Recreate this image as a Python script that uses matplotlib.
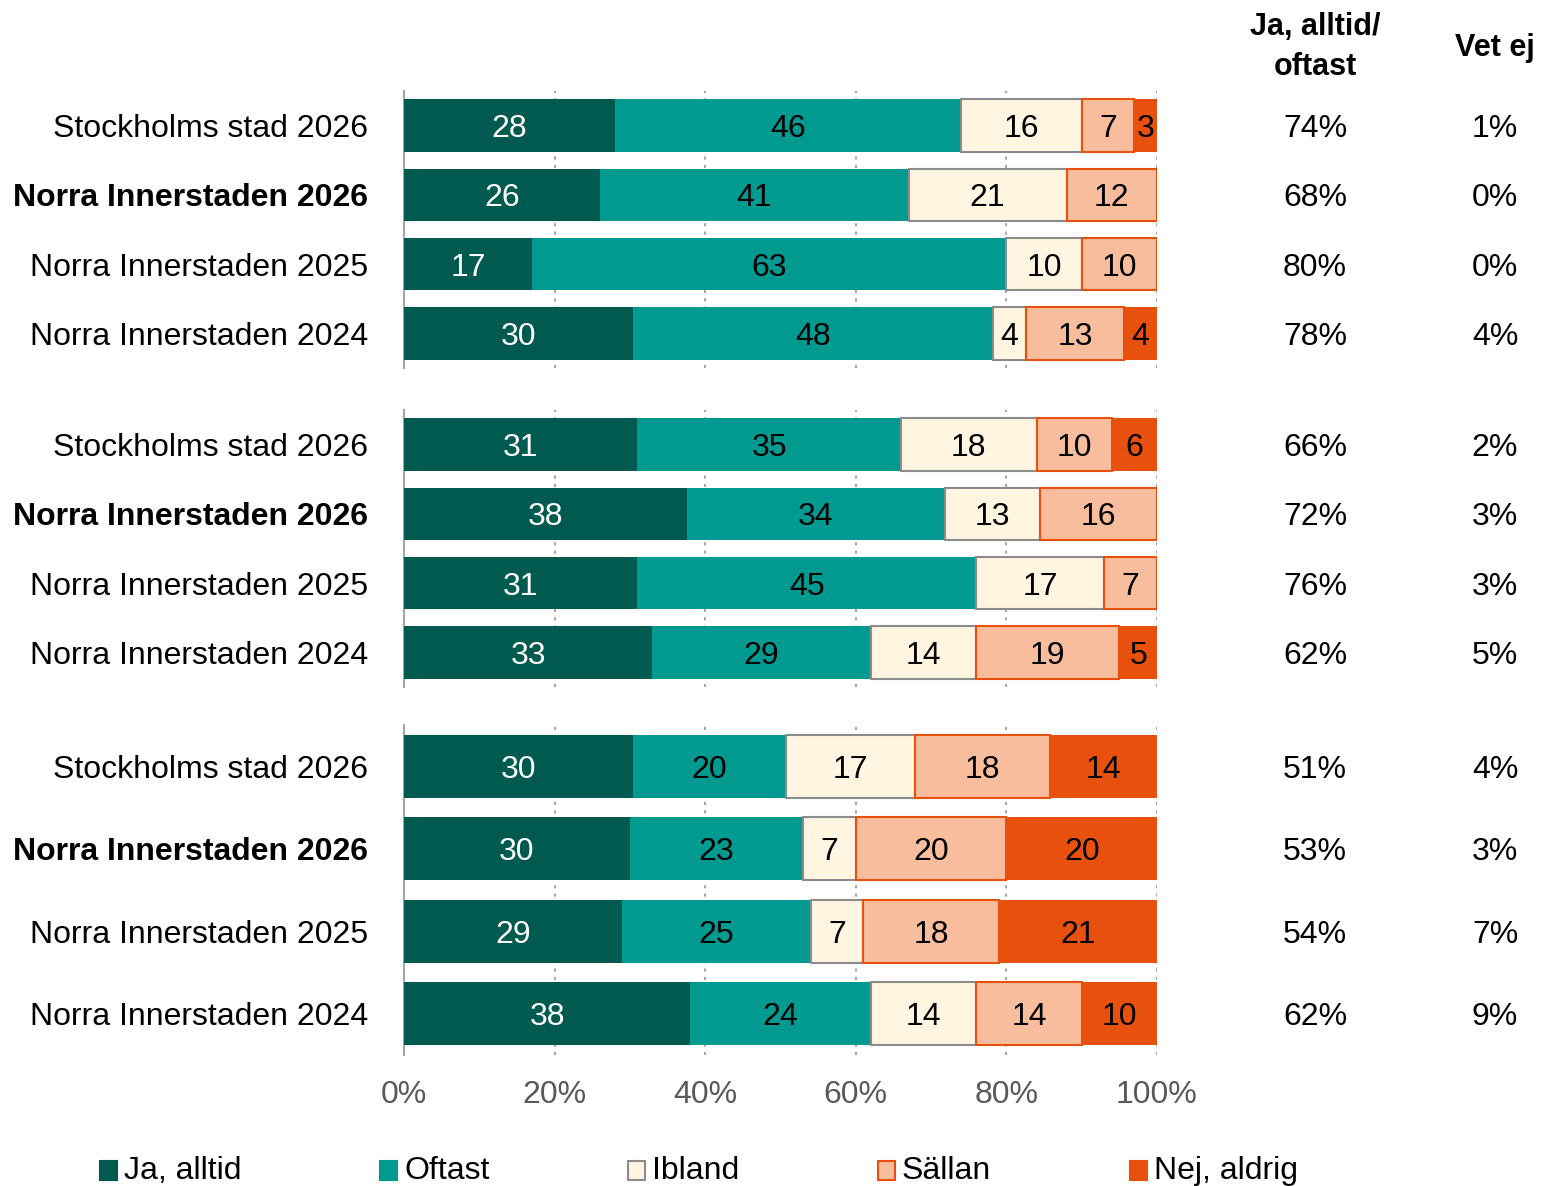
import matplotlib
matplotlib.use("Agg")
import matplotlib.pyplot as plt
from matplotlib.patches import Rectangle
from matplotlib.transforms import blended_transform_factory

plt.rcParams['font.family'] = ['Liberation Sans', 'DejaVu Sans']

categories = ["Stockholms stad 2026", "Norra Innerstaden 2026",
              "Norra Innerstaden 2025", "Norra Innerstaden 2024"]
series_names = ["Ja, alltid", "Oftast", "Ibland", "Sällan", "Nej, aldrig"]

# values per panel (3 panels x 4 rows)
ja_alltid = [[28, 26, 17, 30.4], [31, 37.6, 31, 33], [30.4, 30, 29, 38]]
oftast = [[46, 41, 63, 47.8], [35, 34.2, 45, 29], [20.3, 23, 25, 24]]
ibland = [[16, 21, 10, 4.4], [18, 12.6, 17, 14], [17.2, 7, 7, 14]]
sallan = [[7, 12, 10, 13.0], [10, 15.6, 7, 19], [17.9, 20, 18, 14]]
nej_aldrig = [[3, 0, 0, 4.4], [6, 0, 0, 5], [14.2, 20, 21, 10]]

ja_oftast_pct = [[74, 68, 80, 78], [66, 72, 76, 62], [51, 53, 54, 62]]
vet_ej_pct = [[1, 0, 0, 4], [2, 3, 3, 5], [4, 3, 7, 9]]

xticks = [0, 20, 40, 60, 80, 100]
xticklabels = ["0%", "20%", "40%", "60%", "80%", "100%"]

colors = ["#005A4F", "#009A90", "#FFF5E1", "#F8BD9C", "#E8500E"]
edges = ["#005A4F", "#009A90", "#8C8C8C", "#E8500E", "#E8500E"]
text_colors = ["white", "black", "black", "black", "black"]

W, H = 1545, 1186
fig = plt.figure(figsize=(W / 100, H / 100), dpi=100)

FS = 23
left = 404 / W
width = 753 / W
panels_px = [(91, 368), (410, 687), (725, 1055)]

all_series = [ja_alltid, oftast, ibland, sallan, nej_aldrig]

for p, (top, bot) in enumerate(panels_px):
    ax = fig.add_axes([left, 1 - bot / H, width, (bot - top) / H])
    y = list(range(len(categories)))
    cum = [0.0] * len(categories)
    for s, data in enumerate(all_series):
        vals = data[p]
        ax.barh(y, vals, left=cum, height=0.76, color=colors[s],
                edgecolor=edges[s], linewidth=1.5 if s in (2, 3) else 0,
                zorder=3)
        for i, v in enumerate(vals):
            if v > 0:
                ax.text(cum[i] + v / 2, i, f"{v:.0f}", ha="center",
                        va="center_baseline", color=text_colors[s],
                        fontsize=FS, zorder=4)
        cum = [c + v for c, v in zip(cum, vals)]
    ax.set_xlim(0, 100)
    ax.set_ylim(3.5, -0.5)
    ax.set_yticks(y)
    ax.set_yticklabels(categories, fontsize=FS)
    for i, lab in enumerate(ax.get_yticklabels()):
        if i == 1:
            lab.set_fontweight("bold")
    ax.tick_params(axis="y", length=0, pad=26)
    ax.set_xticks(xticks)
    if p == 2:
        ax.set_xticklabels(xticklabels, fontsize=FS, color="#595959")
    else:
        ax.set_xticklabels([])
    ax.tick_params(axis="x", length=0, pad=18)
    ax.grid(axis="x", color="#A6A6A6", linestyle=(0, (1.5, 2.5)), linewidth=1.5, zorder=0)
    for sp in ["top", "right", "bottom"]:
        ax.spines[sp].set_visible(False)
    ax.spines["left"].set_color("#A6A6A6")
    ax.spines["left"].set_linewidth(1.5)
    ax.set_axisbelow(True)

    tr = blended_transform_factory(fig.transFigure, ax.transData)
    for i in range(len(categories)):
        ax.text(1315 / W, i, f"{ja_oftast_pct[p][i]}%", transform=tr,
                ha="center", va="center_baseline", fontsize=FS, clip_on=False)
        ax.text(1495 / W, i, f"{vet_ej_pct[p][i]}%", transform=tr,
                ha="center", va="center_baseline", fontsize=FS, clip_on=False)

fig.text(1315 / W, 1 - 47 / H, "Ja, alltid/\noftast", ha="center", va="center",
         fontsize=FS - 1, fontweight="bold", linespacing=1.45)
fig.text(1495 / W, 1 - 48 / H, "Vet ej", ha="center", va="center",
         fontsize=FS - 1, fontweight="bold")

# legend
leg_x = [100, 380, 628, 878, 1130]
for s, name in enumerate(series_names):
    fig.patches.append(Rectangle((leg_x[s] / W, 1 - 1180 / H), 17 / W, 19 / H,
                                 transform=fig.transFigure, facecolor=colors[s],
                                 edgecolor=edges[s], linewidth=1.5))
    fig.text((leg_x[s] + 24) / W, 1 - 1171 / H, name, ha="left", va="center",
             fontsize=FS)

fig.savefig("out.png", dpi=100)
